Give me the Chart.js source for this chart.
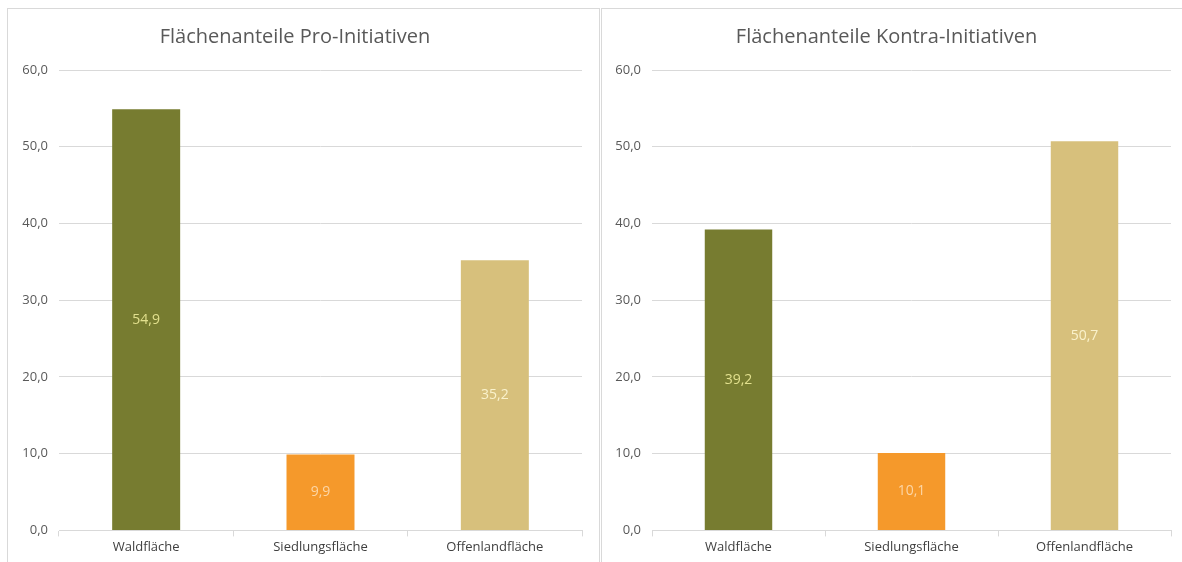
<!DOCTYPE html>
<html>
<head>
<meta charset="utf-8">
<script src="https://cdn.jsdelivr.net/npm/chart.js@4"></script>
<style>
  body { margin: 0; background: #fff; width: 1182px; height: 562px; overflow: hidden; position: relative; }
  .panel { position: absolute; top: 8px; border: 1px solid #d9d9d9; background: #fff; }
  #p1 { left: 7px; width: 591px; height: 560px; }
  #p2 { left: 601px; width: 590px; height: 560px; }
</style>
</head>
<body>
<div class="panel" id="p1"><canvas id="c1" width="590" height="552"></canvas></div>
<div class="panel" id="p2"><canvas id="c2" width="585" height="552"></canvas></div>
<script>
// categories and values (percent of area)
var categories = ["Waldfläche", "Siedlungsfläche", "Offenlandfläche"];
var proValues = [54.9, 9.9, 35.2];
var kontraValues = [39.2, 10.1, 50.7];
var yTicks = [0, 10, 20, 30, 40, 50, 60];

var barColors = ["#777c30", "#f5992b", "#d7c07c"];
var labelColors = ["#e2e08e", "#fcd6a6", "#faf2cc"];

function fmt(v) {
  return v.toFixed(1).replace(".", ",");
}

// draws the value in the middle of each bar
var barLabels = {
  id: "barLabels",
  afterDatasetsDraw: function (chart) {
    var ctx = chart.ctx;
    var meta = chart.getDatasetMeta(0);
    var data = chart.data.datasets[0].data;
    ctx.save();
    ctx.font = "14px 'Open Sans'";
    ctx.textAlign = "center";
    ctx.textBaseline = "middle";
    meta.data.forEach(function (bar, i) {
      ctx.fillStyle = labelColors[i];
      ctx.fillText(fmt(data[i]), bar.x, (bar.y + bar.base) / 2);
    });
    ctx.restore();
  }
};

function makeChart(id, title, values, yWidth) {
  return new Chart(document.getElementById(id), {
    type: "bar",
    data: {
      labels: categories,
      datasets: [{
        data: values,
        backgroundColor: barColors,
        barPercentage: 0.39,
        categoryPercentage: 1
      }]
    },
    options: {
      responsive: false,
      animation: false,
      layout: { padding: { left: 0, right: 16, top: 0, bottom: 3 } },
      plugins: {
        legend: { display: false },
        tooltip: { enabled: false },
        title: {
          display: true,
          text: title,
          color: "#595959",
          font: { family: "'Open Sans'", size: 20, weight: "normal" },
          padding: { top: 16, bottom: 21 }
        }
      },
      scales: {
        x: {
          grid: { drawOnChartArea: false, drawTicks: true, tickLength: 6, color: "#d9d9d9" },
          border: { color: "#d9d9d9" },
          ticks: { color: "#404040", font: { family: "'Open Sans'", size: 13 }, padding: 3 }
        },
        y: {
          min: 0,
          max: 60,
          afterBuildTicks: function (axis) {
            axis.ticks = yTicks.map(function (v) { return { value: v }; });
          },
          afterFit: function (axis) { axis.width = yWidth; },
          grid: { color: "#d9d9d9", drawTicks: false },
          border: { display: false },
          ticks: {
            color: "#595959",
            font: { family: "'Open Sans'", size: 13 },
            padding: 11,
            callback: function (v) { return fmt(v); }
          }
        }
      }
    },
    plugins: [barLabels]
  });
}

makeChart("c1", "Flächenanteile Pro-Initiativen", proValues, 51);
makeChart("c2", "Flächenanteile Kontra-Initiativen", kontraValues, 50);
</script>
</body>
</html>
